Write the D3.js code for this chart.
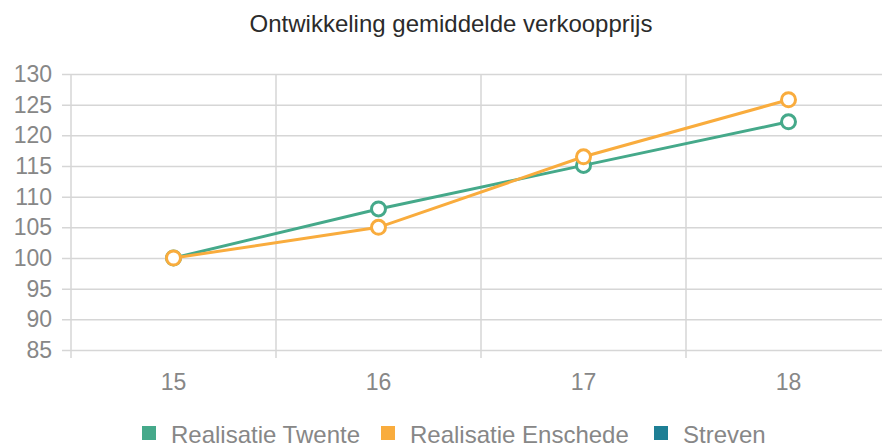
<!DOCTYPE html>
<html>
<head>
<meta charset="utf-8">
<script src="https://cdn.jsdelivr.net/npm/d3@7"></script>
<style>
  body { margin: 0; background: #fff; }
  text { font-family: "Liberation Sans", Arial, sans-serif; }
</style>
</head>
<body>
<svg id="chart_svg" width="882" height="446"></svg>
<script>
var categories = ["15", "16", "17", "18"];
var twente = [100, 108, 115.1, 122.2];
var enschede = [100, 105, 116.5, 125.8];
var yTicks = [85, 90, 95, 100, 105, 110, 115, 120, 125, 130];
var seriesNames = ["Realisatie Twente", "Realisatie Enschede", "Streven"];
var seriesColors = ["#45a98a", "#f9ac3d", "#1e7f95"];

var margin = {top: 74, left: 71, bottom: 96};
var plotW = 820, plotH = 446 - margin.top - margin.bottom;

var base = d3.select('#chart_svg');

base.append("text")
    .text("Ontwikkeling gemiddelde verkoopprijs")
    .attr("x", 451)
    .attr("y", 23)
    .attr("font-size", "24px")
    .attr("fill", "#2b2b2b")
    .attr("text-anchor", "middle")
    .attr("dominant-baseline", "central");

var x = d3.scaleBand().domain(categories).range([0, plotW]);
var y = d3.scaleLinear().domain([85, 130]).range([plotH, 0]);

var g = base.append("g")
    .attr("transform", "translate(" + margin.left + "," + margin.top + ")");

// horizontal grid + y labels
var yAxis = g.append("g")
    .call(d3.axisLeft(y).tickValues(yTicks).tickSize(9).tickPadding(10));
yAxis.select(".domain").remove();
yAxis.selectAll(".tick line")
    .attr("x2", plotW)
    .attr("x1", -9)
    .attr("stroke", "#d6d6d6")
    .attr("stroke-width", 1.5);
yAxis.selectAll(".tick text")
    .attr("x", -19)
    .attr("font-size", "23px")
    .attr("fill", "#878787");

// vertical grid lines at band boundaries
var bounds = categories.map(function(c) { return x(c); });
g.selectAll(".vgrid")
    .data(bounds)
    .enter().append("line")
    .attr("class", "vgrid")
    .attr("x1", function(d) { return d; })
    .attr("x2", function(d) { return d; })
    .attr("y1", 0)
    .attr("y2", plotH + 8)
    .attr("stroke", "#d6d6d6")
    .attr("stroke-width", 1.5);

// x labels
var xAxis = g.append("g")
    .attr("transform", "translate(0," + plotH + ")")
    .call(d3.axisBottom(x).tickSize(0).tickPadding(24));
xAxis.select(".domain").remove();
xAxis.selectAll(".tick text")
    .attr("font-size", "23px")
    .attr("fill", "#878787");

var line = d3.line()
    .x(function(d, i) { return x(categories[i]) + x.bandwidth() / 2; })
    .y(function(d) { return y(d); });

var series = [twente, enschede];
series.forEach(function(vals, si) {
    var sg = g.append("g");
    sg.append("path")
        .datum(vals)
        .attr("d", line)
        .attr("fill", "none")
        .attr("stroke", seriesColors[si])
        .attr("stroke-width", 3);
    sg.selectAll("circle")
        .data(vals)
        .enter().append("circle")
        .attr("cx", function(d, i) { return x(categories[i]) + x.bandwidth() / 2; })
        .attr("cy", function(d) { return y(d); })
        .attr("r", 7)
        .attr("fill", "#fff")
        .attr("stroke", seriesColors[si])
        .attr("stroke-width", 3);
});

// legend
var legend = base.append("g").attr("transform", "translate(0,433)");
var legX = [142, 381, 654];
seriesNames.forEach(function(name, i) {
    legend.append("rect")
        .attr("x", legX[i])
        .attr("y", -7)
        .attr("width", 14)
        .attr("height", 14)
        .attr("fill", seriesColors[i]);
    legend.append("text")
        .text(name)
        .attr("x", legX[i] + 29)
        .attr("y", 1)
        .attr("font-size", "24px")
        .attr("fill", "#878787")
        .attr("dominant-baseline", "central");
});
</script>
</body>
</html>
